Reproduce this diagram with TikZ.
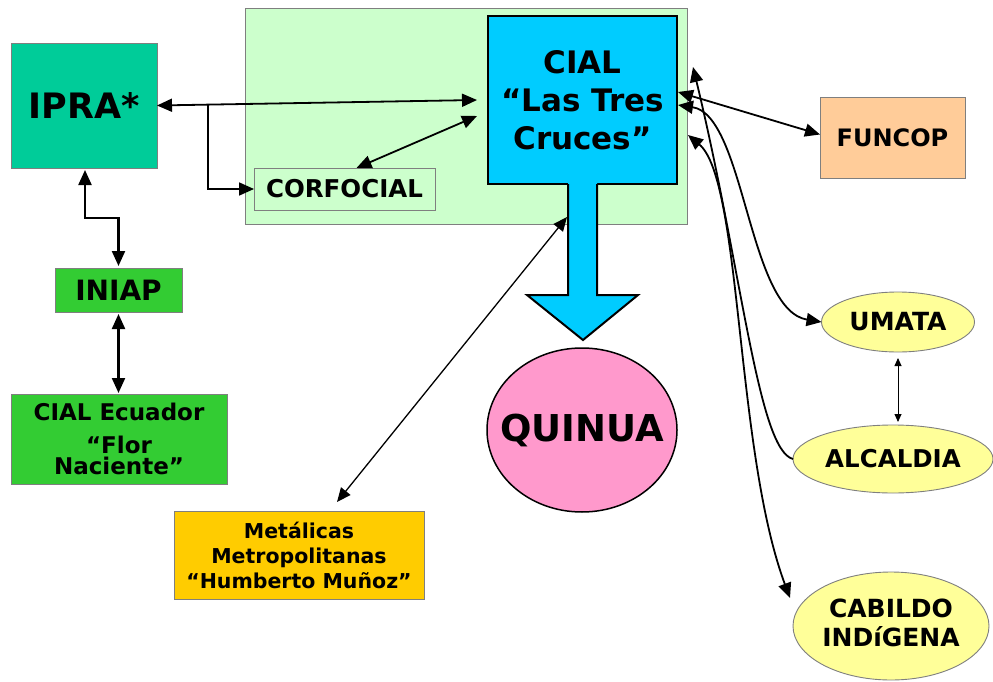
\documentclass[tikz,border=0pt]{standalone}
\usepackage{fontspec}
\setmainfont{DejaVu Sans}
\usetikzlibrary{arrows.meta,shapes.geometric,calc}
\definecolor{bggreen}{HTML}{CCFFCC}
\definecolor{ipragreen}{HTML}{00CC99}
\definecolor{cialblue}{HTML}{00CCFF}
\definecolor{iniapgreen}{HTML}{33CC33}
\definecolor{metalyellow}{HTML}{FFCC00}
\definecolor{funcoporange}{HTML}{FFCC99}
\definecolor{ellyellow}{HTML}{FFFF99}
\definecolor{quinuapink}{HTML}{FF99CC}
\definecolor{bordergray}{HTML}{7F7F7F}
\begin{document}
\begin{tikzpicture}[x=1pt,y=-1pt,
  box/.style={rectangle, draw=bordergray, line width=0.9pt, inner sep=0pt, outer sep=0pt, align=center},
  ell/.style={ellipse, draw=bordergray, line width=0.9pt, fill=ellyellow, inner sep=0pt, outer sep=0pt},
  arr/.style={line width=1.8pt, {Triangle[length=15pt,width=13pt]}-{Triangle[length=15pt,width=13pt]}},
  arrend/.style={line width=1.8pt, -{Triangle[length=15pt,width=13pt]}},
  thinarr/.style={line width=1.3pt, {Triangle[length=14pt,width=12pt]}-{Triangle[length=14pt,width=12pt]}},
  finearr/.style={line width=0.9pt, {Triangle[length=8pt,width=7pt]}-{Triangle[length=8pt,width=7pt]}}
]
\useasboundingbox (0,0) rectangle (993,682);

% background frame
\node[box, fill=bggreen, minimum width=442pt, minimum height=216pt] (bg) at (466,116) {};

% nodes
\node[box, fill=ipragreen, minimum width=146pt, minimum height=125pt,
      font=\bfseries\fontsize{35}{38}\selectfont] (ipra) at (84,105.5) {IPRA*};
\node[box, fill=bggreen, minimum width=181pt, minimum height=42pt,
      font=\bfseries\fontsize{24.5}{28}\selectfont] (corf) at (344.5,189) {CORFOCIAL};
\node[rectangle, draw=black, line width=2.5pt, fill=cialblue, inner sep=0pt, outer sep=0pt,
      minimum width=189pt, minimum height=168pt, align=center,
      font=\bfseries\fontsize{31}{38}\selectfont] (cial) at (582.5,100) {CIAL\\“Las Tres\\Cruces”};
\node[box, fill=funcoporange, minimum width=145pt, minimum height=81pt,
      font=\bfseries\fontsize{24}{28}\selectfont] (funcop) at (892.5,137.5) {FUNCOP};
\node[box, fill=iniapgreen, minimum width=127pt, minimum height=44pt,
      font=\bfseries\fontsize{28}{30}\selectfont] (iniap) at (118.5,290) {INIAP};
\node[box, fill=iniapgreen, minimum width=216pt, minimum height=90pt,
      font=\bfseries\fontsize{23}{21}\selectfont] (ecu) at (119,439) {CIAL Ecuador\\[12pt]“Flor\\Naciente”};
\node[box, fill=metalyellow, minimum width=250pt, minimum height=88pt,
      font=\bfseries\fontsize{20.5}{25}\selectfont] (metal) at (299,555) {Metálicas\\Metropolitanas\\“Humberto Muñoz”};
\node[ellipse, draw=black, line width=1.5pt, fill=quinuapink, inner sep=0pt, outer sep=0pt,
      minimum width=190pt, minimum height=164pt,
      font=\bfseries\fontsize{37}{40}\selectfont] (quinua) at (582,430) {\makebox[0pt]{QUINUA}};
\node[ell, minimum width=153pt, minimum height=60pt,
      font=\bfseries\fontsize{25}{28}\selectfont] (umata) at (898,322) {\makebox[0pt]{UMATA}};
\node[ell, minimum width=200pt, minimum height=68pt,
      font=\bfseries\fontsize{24.5}{28}\selectfont] (alcal) at (893,459) {\makebox[0pt]{ALCALDIA}};
\node[ell, minimum width=196pt, minimum height=108pt,
      font=\bfseries\fontsize{25}{29}\selectfont] (cabildo) at (891,626)
      {\makebox[0pt]{\begin{tabular}{@{}c@{}}CABILDO\\INDíGENA\end{tabular}}};

% block arrow from CIAL to QUINUA
\fill[cialblue] (568,182) -- (568,295) -- (527,295) -- (583,340) -- (638,295) -- (597,295) -- (597,182) -- cycle;
\draw[line width=2pt, line join=miter] (568,184) -- (568,295) -- (527,295) -- (583,340) -- (638,295) -- (597,295) -- (597,184);
\coordinate (shaft) at (567,217);

% connectors
\coordinate (branch) at (208,105);
\draw[arr] (ipra.east) -- ($(cial.west)+(-11,0)$);
\draw[arrend] (branch) |- (corf.west);
\draw[arr] ($(corf.north)+(12,0)$) -- ($(cial.west)+(-11,16)$);
\draw[arr, line width=2.2pt] ($(ipra.south)+(1,2)$) -- ++(0,48) -| ($(iniap.north)+(0,-2)$);
\draw[arr, line width=2.2pt] ($(iniap.south)+(0,2)$) -- ($(iniap.south |- ecu.north)+(0,-1)$);
\draw[thinarr] ($(metal.north)+(38,-9)$) -- (shaft);
\draw[arr] ($(cial.east)+(1,-8)$) -- ($(funcop.west)+(0,-3)$);
\draw[arr] ($(cial.east)+(1,5)$) .. controls (745,115) and (748,310) .. (umata.west);
\draw[arrend] (alcal.west) .. controls (758,450) and (742,270) .. ($(cial.east)+(16,-33)$);
\draw[arr] ($(cial.east)+(11,35)$) .. controls (742,180) and (735,450) .. ($(cabildo.west)+(-3,-28)$);
\draw[finearr] ($(umata.south)+(0,6)$) -- ($(umata.south |- alcal.north)+(0,-3)$);
\end{tikzpicture}
\end{document}
